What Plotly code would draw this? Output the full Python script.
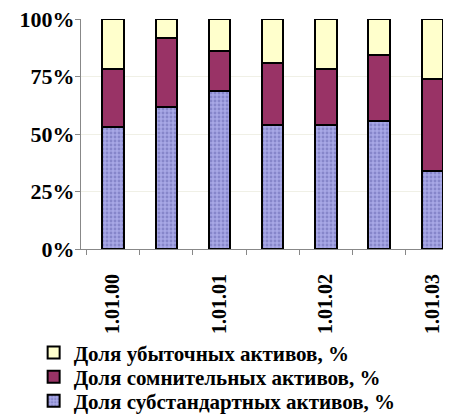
import plotly.graph_objects as go

categories = ["1.01.00", "1.07.00", "1.01.01", "1.07.01", "1.01.02", "1.07.02", "1.01.03"]
tick_labels = ["1.01.00", "", "1.01.01", "", "1.01.02", "", "1.01.03"]

substandard = [52.9, 61.7, 68.6, 53.8, 53.8, 55.5, 33.8]
doubtful = [25.4, 29.9, 17.6, 27.1, 24.6, 28.8, 40.1]
loss = [21.7, 8.4, 13.8, 19.1, 21.6, 15.7, 26.1]

names = ["Доля субстандартных активов, %", "Доля сомнительных активов, %", "Доля убыточных активов, %"]

font_family = "Liberation Serif, Times New Roman, serif"
legend_font = dict(family=font_family, size=21, color="#000000", weight="bold")

fig = go.Figure()
fig.add_trace(go.Bar(
    x=categories, y=substandard, name=names[0], legend="legend3",
    marker=dict(color="#A0A0E2", line=dict(color="#000000", width=2),
                pattern=dict(shape=".", fgcolor="#8686CA", bgcolor="#A8A8E6", size=4, solidity=0.4, fillmode="replace")),
))
fig.add_trace(go.Bar(
    x=categories, y=doubtful, name=names[1], legend="legend2",
    marker=dict(color="#993366", line=dict(color="#000000", width=2)),
))
fig.add_trace(go.Bar(
    x=categories, y=loss, name=names[2], legend="legend",
    marker=dict(color="#FFFFCC", line=dict(color="#000000", width=2)),
))

leg_common = dict(x=-0.128, xanchor="left", yanchor="middle", font=legend_font,
                  bgcolor="rgba(0,0,0,0)", borderwidth=0)

fig.update_layout(
    width=443, height=410,
    barmode="stack", bargap=0.6,
    margin=dict(l=73, r=0, t=11, b=169, autoexpand=False),
    paper_bgcolor="white", plot_bgcolor="white",
    font=dict(family=font_family, color="#000000"),
    showlegend=True,
    legend=dict(y=-0.452, **leg_common),
    legend2=dict(y=-0.557, **leg_common),
    legend3=dict(y=-0.661, **leg_common),
    xaxis=dict(
        type="category",
        categoryorder="array", categoryarray=categories,
        range=[-0.6, 6.35],
        tickmode="array", tickvals=categories, ticktext=tick_labels,
        tickangle=-90,
        tickson="boundaries",
        ticks="outside", ticklen=5, tickcolor="#888888",
        showline=True, linecolor="#888888", linewidth=1,
        showgrid=False,
        tickfont=dict(family=font_family, size=20, color="#000000", weight="bold"),
        ticklabelstandoff=16,
        ticklabeloverflow="allow",
        automargin=False,
    ),
    yaxis=dict(
        range=[0, 100],
        tickvals=[0, 25, 50, 75, 100],
        ticktext=["0%", "25%", "50%", "75%", "100%"],
        ticks="outside", ticklen=5, tickcolor="#888888",
        showline=True, linecolor="#888888", linewidth=1,
        showgrid=True, gridcolor="#F0F0E6", gridwidth=1,
        zeroline=False,
        tickfont=dict(family=font_family, size=22, color="#000000", weight="bold"),
        ticklabelstandoff=-4,
        ticklabeloverflow="allow",
        automargin=False,
    ),
)

fig.write_html("out.html")
